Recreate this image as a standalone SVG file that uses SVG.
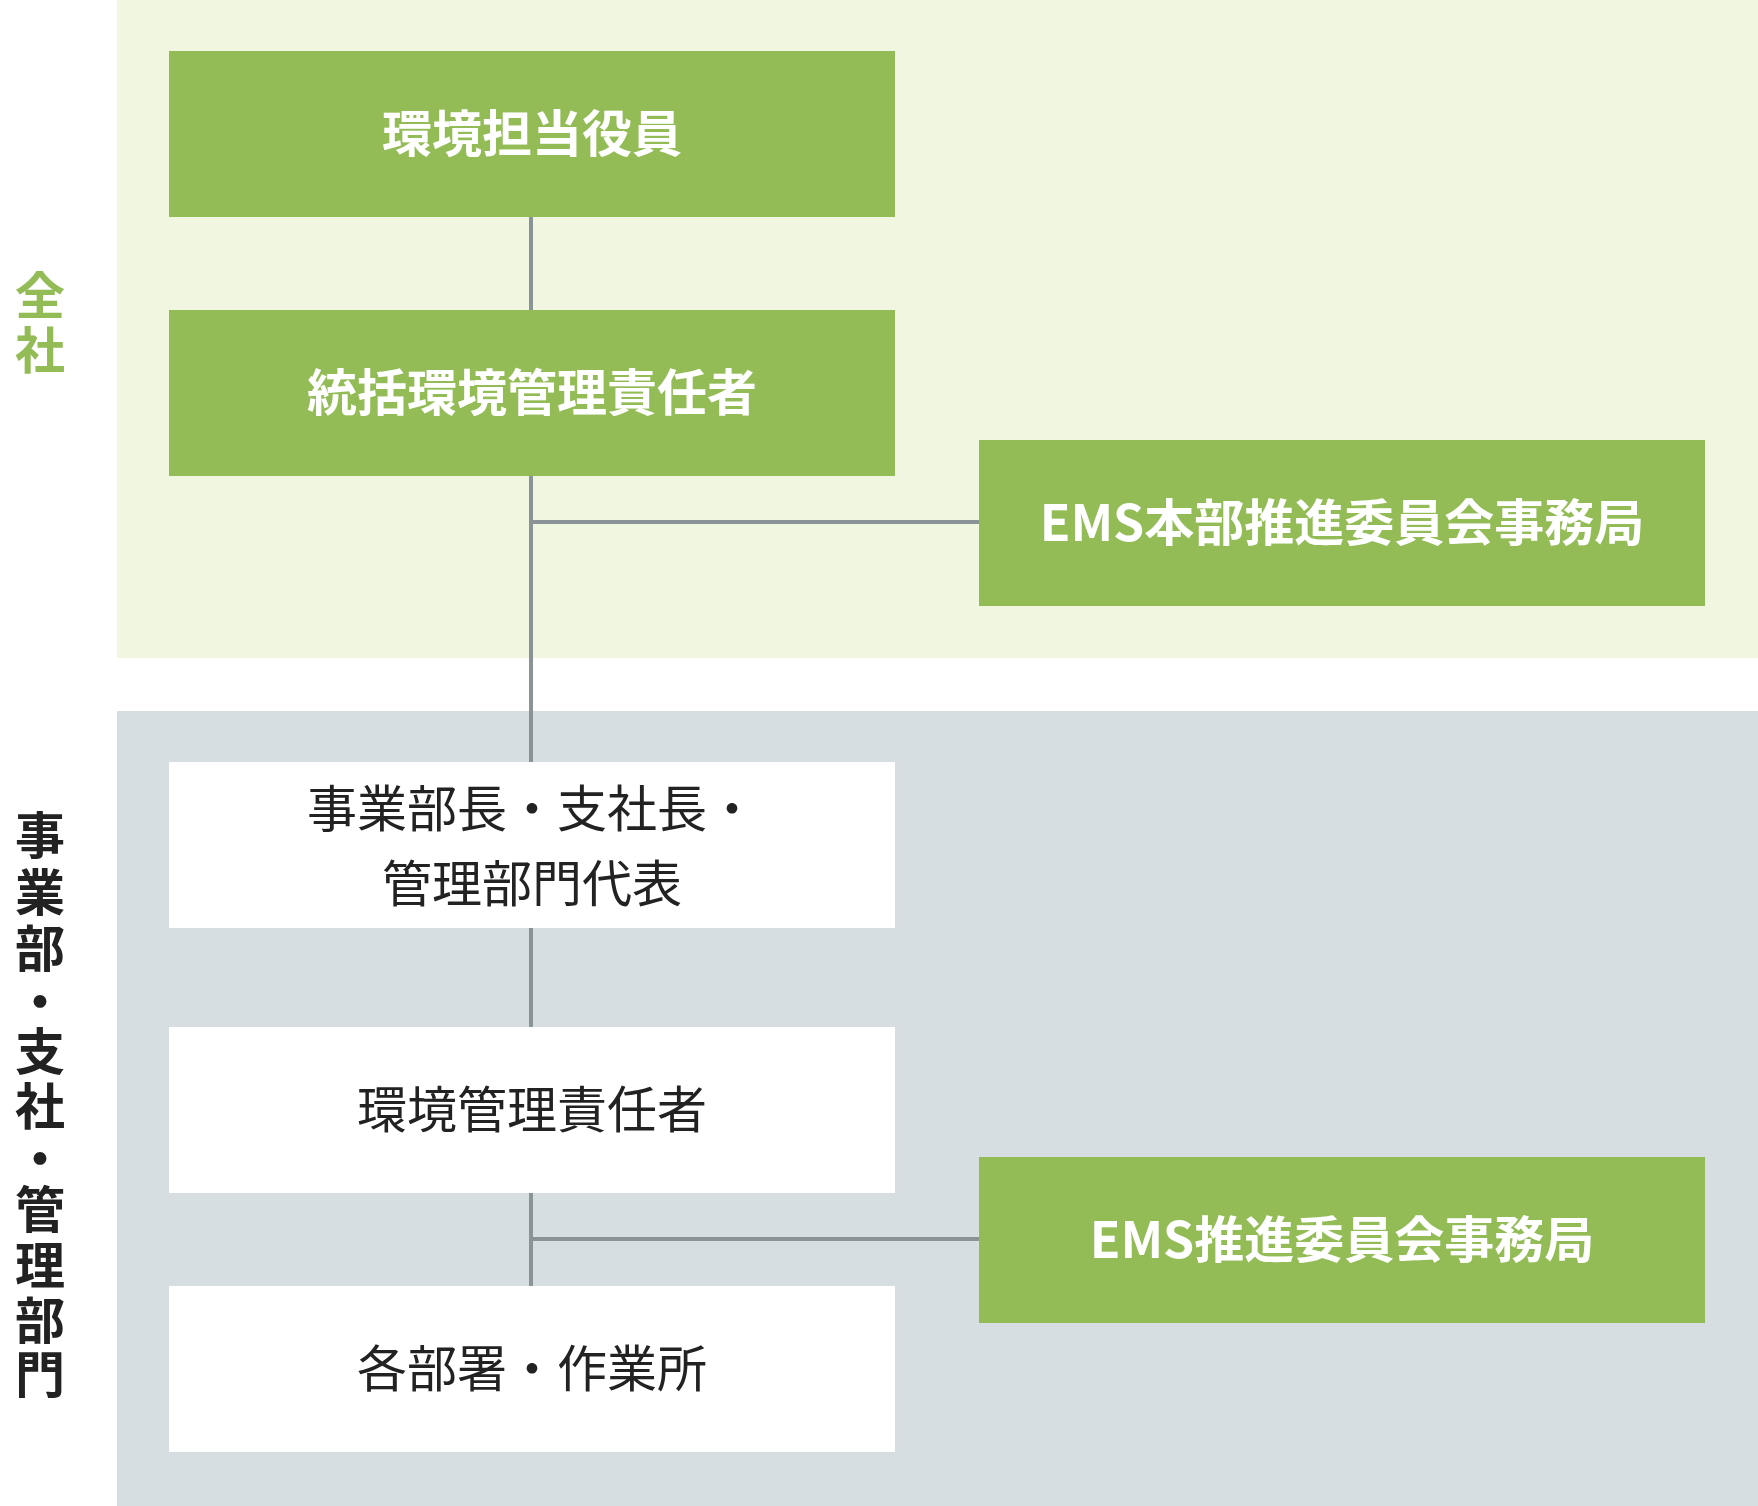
<svg xmlns="http://www.w3.org/2000/svg" width="1758" height="1506" viewBox="0 0 1758 1506">
<style>
.g{fill:#93bc57}.w{fill:#fff}
.t{font-family:"Noto Sans CJK JP",sans-serif;font-size:50px;text-anchor:middle}
.tw{fill:#fff;font-weight:bold}.td{fill:#222}
.l{stroke:#8a9396;stroke-width:4;fill:none}
.side{font-family:"Noto Sans CJK JP",sans-serif;font-size:50px;font-weight:bold;text-anchor:middle}
</style>
<rect width="1758" height="1506" fill="#fff"/>
<rect x="117" y="0" width="1641" height="658" fill="#f1f6e0"/>
<rect x="117" y="711" width="1641" height="795" fill="#d6dee1"/>
<g class="side" fill="#93bc57"><text x="40" y="314">全</text><text x="40" y="369">社</text></g>
<g class="side" fill="#222">
<text x="40" y="854">事</text><text x="40" y="911">業</text><text x="40" y="967">部</text><text x="40" y="1020">・</text><text x="40" y="1070">支</text><text x="40" y="1125">社</text><text x="40" y="1177">・</text><text x="40" y="1228">管</text><text x="40" y="1284">理</text><text x="40" y="1339">部</text><text x="40" y="1393">門</text></g>
<g id="connectors" class="l">
<line x1="531" y1="217" x2="531" y2="310"/>
<line x1="531" y1="476" x2="531" y2="762"/>
<line x1="531" y1="522" x2="979" y2="522"/>
<line x1="531" y1="928" x2="531" y2="1027"/>
<line x1="531" y1="1193" x2="531" y2="1286"/>
<line x1="531" y1="1239" x2="979" y2="1239"/>
</g>
<g id="n1"><rect class="g" x="169" y="51" width="726" height="166"/><text class="t tw" x="532" y="152">環境担当役員</text></g>
<g id="n2"><rect class="g" x="169" y="310" width="726" height="166"/><text class="t tw" x="532" y="411">統括環境管理責任者</text></g>
<g id="n3"><rect class="g" x="979" y="440" width="726" height="166"/><text class="t tw" x="1342" y="541">EMS本部推進委員会事務局</text></g>
<g id="n4"><rect class="w" x="169" y="762" width="726" height="166"/><text class="t td" x="532" y="827">事業部長・支社長・</text><text class="t td" x="532" y="902">管理部門代表</text></g>
<g id="n5"><rect class="w" x="169" y="1027" width="726" height="166"/><text class="t td" x="532" y="1128">環境管理責任者</text></g>
<g id="n6"><rect class="g" x="979" y="1157" width="726" height="166"/><text class="t tw" x="1342" y="1258">EMS推進委員会事務局</text></g>
<g id="n7"><rect class="w" x="169" y="1286" width="726" height="166"/><text class="t td" x="532" y="1387">各部署・作業所</text></g>
</svg>
